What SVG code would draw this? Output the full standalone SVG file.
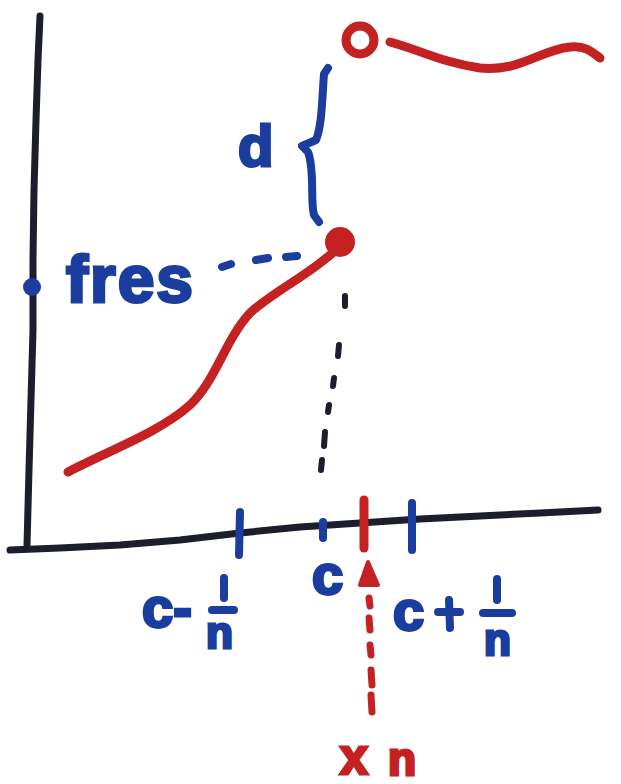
<svg xmlns="http://www.w3.org/2000/svg" width="621" height="784" viewBox="0 0 621 784">
<style>
.ax{fill:none;stroke:#1c1e2c;stroke-width:7;stroke-linecap:round;stroke-linejoin:round}
.bl{fill:none;stroke:#1a3d9e;stroke-width:8;stroke-linecap:round;stroke-linejoin:round}
.rd{fill:none;stroke:#c42222;stroke-width:9;stroke-linecap:round;stroke-linejoin:round}
.bt{fill:#1a3d9e;stroke:#1a3d9e;stroke-width:3;font-family:"Liberation Sans",Arial,sans-serif;font-weight:bold}
.rt{fill:#c42222;stroke:#c42222;stroke-width:3;font-family:"Liberation Sans",Arial,sans-serif;font-weight:bold}
</style>
<rect width="621" height="784" fill="#ffffff"/>
<g id="axes">
<path class="ax" d="M40,16 L38,60 L36,120 L34,190 L33,260 L33,330 L31,400 L29,470 L27,545"/>
<path class="ax" d="M10,550 L60,548 L120,545 L180,540 L240,533 L300,527 L360,523 L420,519 L480,516 L540,513 L598,510"/>
</g>
<g id="curve">
<path class="rd" d="M68,472 C110,450 160,432 190,405 C215,382 225,340 250,313 C275,290 310,275 338,248"/>
<circle cx="340" cy="242" r="15" fill="#c42222"/>
<circle cx="360" cy="40" r="14" fill="none" stroke="#c42222" stroke-width="9"/>
<path class="rd" d="M390,42 C420,50 440,62 480,68 C520,72 540,50 570,47 C585,45 592,52 600,58"/>
</g>
<g id="fres">
<circle cx="32" cy="287" r="9" fill="#1a3d9e"/>
<text class="bt" x="66" y="302" font-size="66" letter-spacing="2">fres</text>
<path class="bl" d="M222,267 L231,264 M256,260 L268,258 M286,257 L297,256" stroke-width="6"/>
</g>
<g id="d">
<text class="bt" x="238" y="166" font-size="58">d</text>
<path class="bl" d="M328,68 L324,74 C322,100 322,125 316,140 L302,146 L308,152 C315,170 310,200 314,215 L319,222"/>
</g>
<g id="connectors">
<path d="M345,296 L345,306 M339,345 L338,356 M334,378 L333,386 M329,405 L328,412 M325,432 L324,446 M322,460 L321,470" fill="none" stroke="#1c1e2c" stroke-width="6" stroke-linecap="round"/>
<path d="M369,598 L370,606 M369,618 L370,630 M370,645 L371,655 M371,670 L372,685 M371,695 L372,712" fill="none" stroke="#c42222" stroke-width="7" stroke-linecap="round"/>
<path d="M368,562 L360,585 L378,585 Z" fill="#c42222" stroke="#c42222" stroke-width="4" stroke-linejoin="round"/>
</g>
<g id="ticks">
<path class="bl" d="M240,512 L239,555"/>
<path class="bl" d="M323,522 L323,538" stroke-width="12"/>
<path class="rd" d="M364,500 L364,548"/>
<path class="bl" d="M412,503 L412,550"/>
</g>
<g id="labels">
<text class="bt" x="142" y="627" font-size="56">c-</text>
<path class="bl" d="M212,610 L234,610" stroke-width="6"/>
<path class="bl" d="M224,578 L224,598" stroke-width="6"/>
<text class="bt" x="206" y="648" font-size="44">n</text>
<text class="bt" x="312" y="594" font-size="56">c</text>
<text class="bt" x="393" y="630" font-size="56">c</text>
<path class="bl" d="M438,612 L460,612 M449,600 L450,628" stroke-width="7"/>
<path class="bl" d="M483,613 L512,613" stroke-width="7"/>
<path class="bl" d="M497,579 L497,600" stroke-width="6"/>
<text class="bt" x="484" y="655" font-size="44">n</text>
<text class="rt" x="340" y="774" font-size="50">x</text>
<text class="rt" x="388" y="775" font-size="46">n</text>
</g>
</svg>
